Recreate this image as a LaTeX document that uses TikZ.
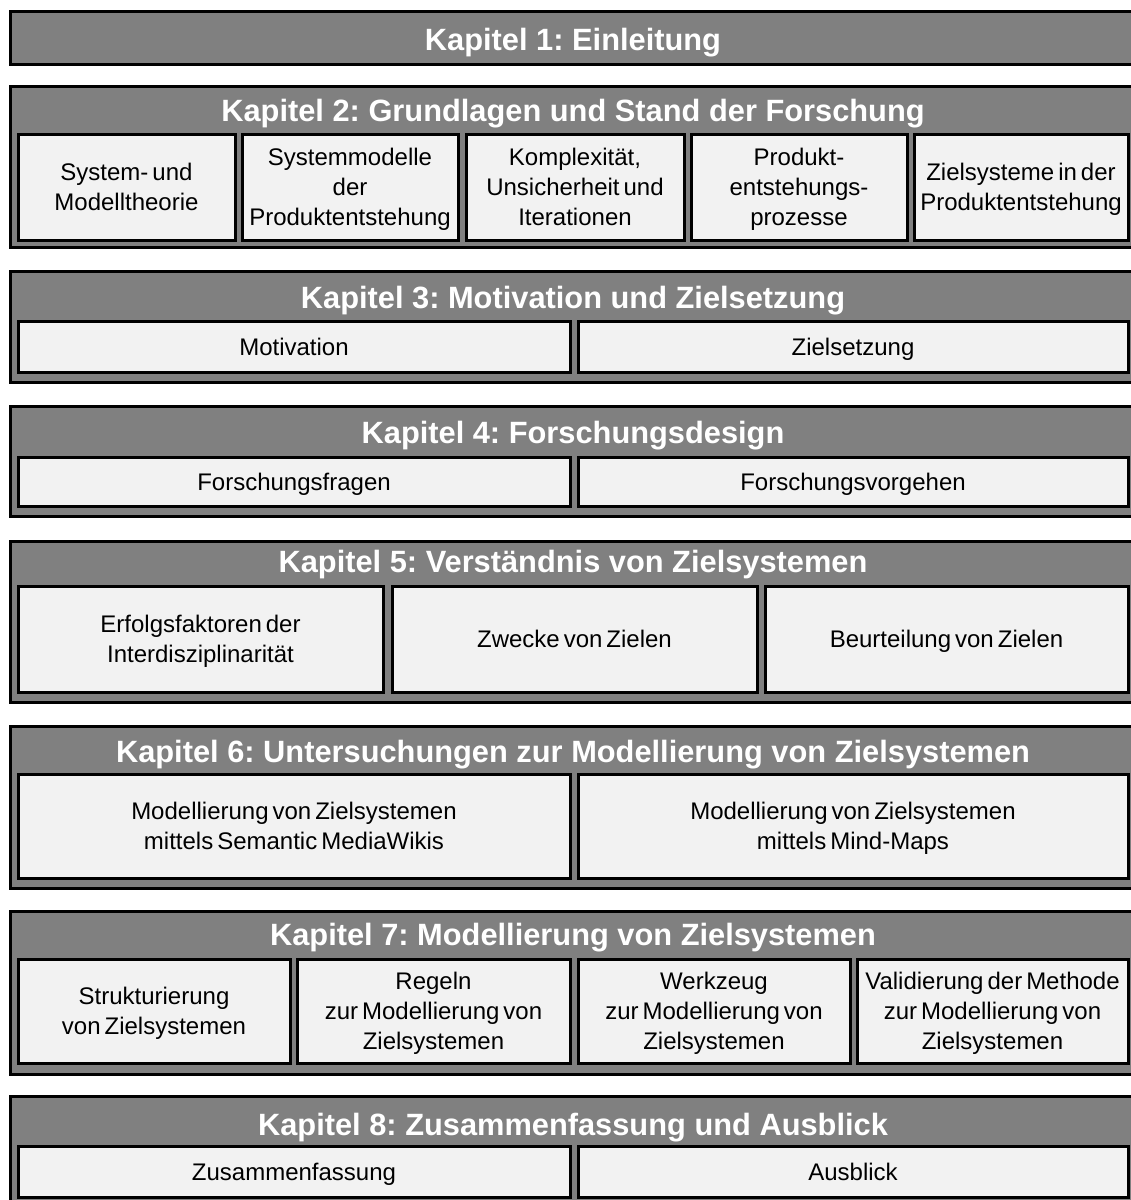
\documentclass[tikz,border=0pt]{standalone}
\usepackage{fontspec}
\setmainfont{Liberation Sans}
\newfontfamily\subfont[WordSpace=0.6]{Liberation Sans}
\usetikzlibrary{shadows}
\definecolor{chapgray}{HTML}{808080}
\definecolor{secfill}{HTML}{F2F2F2}
% strut centred on the cap height of the section font
\newcommand{\capstrut}{\rule[-6pt]{0pt}{29pt}}
\begin{document}
\frenchspacing
\begin{tikzpicture}[x=1pt,y=-1pt,
  chapbox/.style={draw=black, line width=3pt, fill=chapgray, rectangle,
    drop shadow={shadow xshift=2pt, shadow yshift=-2pt, fill=black!25, opacity=1}},
  chaptitle/.style={text=white, font=\fontsize{30.8}{35}\selectfont\bfseries\frenchspacing,
    inner sep=0pt, anchor=base},
  secbox/.style={draw=black, line width=3pt, fill=secfill, rectangle, align=center,
    font=\subfont\fontsize{24}{30}\selectfont\frenchspacing, inner sep=0pt}]
\useasboundingbox (0,0) rectangle (1131,1200);
\begin{scope}
\clip (0,0) rectangle (1131,1200);

% outer chapter box with its title: name, top, bottom, title baseline, title
\newcommand{\chapbox}[5]{%
  \path[chapbox] (10,#2) rectangle (1145,#3);
  \node[chaptitle] (#1) at (573,#4) {#5};}
% section box: name, x1, y1, x2, y2, text
\newcommand{\secnode}[6]{%
  \node[secbox, minimum width={#4-#2}, minimum height={#5-#3}, anchor=center]
    (#1) at ({(#2+#4)/2},{(#3+#5)/2}) {\capstrut#6\capstrut};}

% Kapitel 1
\chapbox{t1}{11}{64}{50}{Kapitel 1: Einleitung}

% Kapitel 2
\chapbox{t2}{86}{247}{121}{Kapitel 2: Grundlagen und Stand der Forschung}
\secnode{s21}{18}{134}{235}{240}{System-\,und\\Modelltheorie}
\secnode{s22}{242}{134}{458}{240}{Systemmodelle\\der\\Produktentstehung}
\secnode{s23}{466}{134}{684}{240}{Komplexität,\\Unsicherheit und\\Iterationen}
\secnode{s24}{691}{134}{907}{240}{Produkt-\\entstehungs-\\prozesse}
\secnode{s25}{914}{134}{1128}{240}{Zielsysteme in der\\Produktentstehung}

% Kapitel 3
\chapbox{t3}{271}{382}{308}{Kapitel 3: Motivation und Zielsetzung}
\secnode{s31}{18}{321}{570}{372}{Motivation}
\secnode{s32}{578}{321}{1128}{372}{Zielsetzung}

% Kapitel 4
\chapbox{t4}{406}{516}{443}{Kapitel 4: Forschungsdesign}
\secnode{s41}{18}{457}{570}{506}{Forschungsfragen}
\secnode{s42}{578}{457}{1128}{506}{Forschungsvorgehen}

% Kapitel 5
\chapbox{t5}{541}{702}{572}{Kapitel 5: Verständnis von Zielsystemen}
\secnode{s51}{18}{586}{383}{692}{Erfolgsfaktoren der\\Interdisziplinarität}
\secnode{s52}{392}{586}{757}{692}{Zwecke von Zielen}
\secnode{s53}{765}{586}{1128}{692}{Beurteilung von Zielen}

% Kapitel 6
\chapbox{t6}{726}{888}{762}{Kapitel 6: Untersuchungen zur Modellierung von Zielsystemen}
\secnode{s61}{18}{774}{570}{878}{Modellierung von Zielsystemen\\mittels Semantic MediaWikis}
\secnode{s62}{578}{774}{1128}{878}{Modellierung von Zielsystemen\\mittels Mind-Maps}

% Kapitel 7
\chapbox{t7}{911}{1074}{945}{Kapitel 7: Modellierung von Zielsystemen}
\secnode{s71}{18}{959}{290}{1063}{Strukturierung\\von Zielsystemen}
\secnode{s72}{297}{959}{570}{1063}{Regeln\\zur Modellierung von\\Zielsystemen}
\secnode{s73}{578}{959}{850}{1063}{Werkzeug\\zur Modellierung von\\Zielsystemen}
\secnode{s74}{857}{959}{1128}{1063}{Validierung der Methode\\zur Modellierung von\\Zielsystemen}

% Kapitel 8
\chapbox{t8}{1096}{1220}{1135}{Kapitel 8: Zusammenfassung und Ausblick}
\secnode{s81}{18}{1146}{570}{1197}{Zusammenfassung}
\secnode{s82}{578}{1146}{1128}{1197}{Ausblick}
\end{scope}
\end{tikzpicture}
\end{document}
